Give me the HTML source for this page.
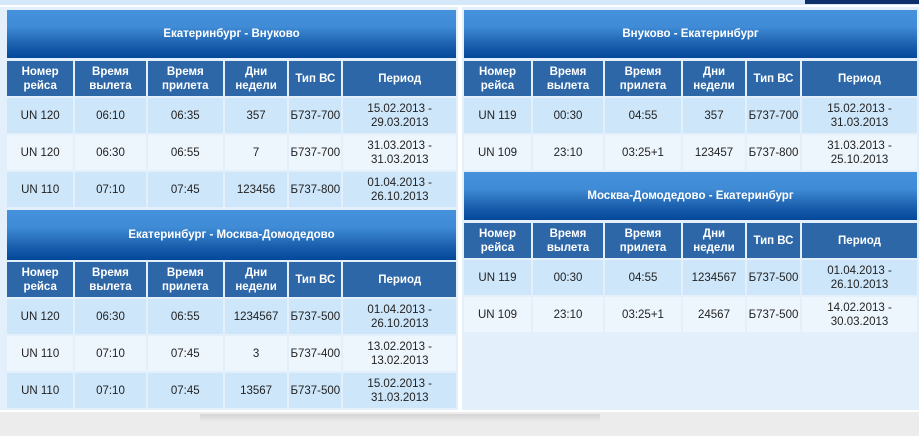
<!DOCTYPE html>
<html><head><meta charset="utf-8"><style>
body{margin:0;width:919px;height:436px;background:#ececec;position:relative;overflow:hidden;font-family:"Liberation Sans",sans-serif}
.abs{position:absolute}
.title{position:absolute;height:48px;background:linear-gradient(#4591db 0%,#3f8bd5 35%,#1d62b0 70%,#03479a 100%);color:#fff;font-weight:bold;font-size:11.5px;display:flex;align-items:center;justify-content:center}
table{position:absolute;border-collapse:separate;border-spacing:2px;table-layout:fixed}
td{padding:0;height:35px;text-align:center;vertical-align:middle;font-size:11.5px;color:#222;line-height:14px}
tr.h td{background:#2d67a8;color:#fff;font-weight:bold}
tr.o td{background:#cde6fa}
tr.e td{background:#eef6fd}
</style></head><body>
<div class="abs" style="left:0;top:0;width:919px;height:412px;background:#fff"></div>
<div class="abs" style="left:0;top:0;width:919px;height:5px;background:#d4e8f9"></div>
<div class="abs" style="left:805px;top:0;width:114px;height:4px;background:#0e2f6a"></div>
<div class="abs" style="left:0;top:7px;width:458px;height:403px;background:#e3effb"></div>
<div class="abs" style="left:462px;top:7px;width:457px;height:403px;background:#e3effb"></div>
<div class="abs" style="left:200px;top:414px;width:400px;height:8px;background:linear-gradient(#d4d4d4,#ececec)"></div>

<div class="title" style="left:7px;top:10px;width:449px">Екатеринбург - Внуково</div>
<table style="left:5px;top:59px;width:453px">
<colgroup><col style="width:66px"><col style="width:70px"><col style="width:75px"><col style="width:62px"><col style="width:52px"><col style="width:112px"></colgroup>
<tr class="h"><td>Номер<br>рейса</td><td>Время<br>вылета</td><td>Время<br>прилета</td><td>Дни<br>недели</td><td>Тип ВС</td><td>Период</td></tr>
<tr class="o"><td>UN 120</td><td>06:10</td><td>06:35</td><td>357</td><td>Б737-700</td><td>15.02.2013 -<br>29.03.2013</td></tr>
<tr class="e"><td>UN 120</td><td>06:30</td><td>06:55</td><td>7</td><td>Б737-700</td><td>31.03.2013 -<br>31.03.2013</td></tr>
<tr class="o"><td>UN 110</td><td>07:10</td><td>07:45</td><td>123456</td><td>Б737-800</td><td>01.04.2013 -<br>26.10.2013</td></tr>
</table>

<div class="title" style="left:7px;top:210px;width:449px;height:50px">Екатеринбург - Москва-Домодедово</div>
<table style="left:5px;top:260px;width:453px">
<colgroup><col style="width:66px"><col style="width:70px"><col style="width:75px"><col style="width:62px"><col style="width:52px"><col style="width:112px"></colgroup>
<tr class="h"><td>Номер<br>рейса</td><td>Время<br>вылета</td><td>Время<br>прилета</td><td>Дни<br>недели</td><td>Тип ВС</td><td>Период</td></tr>
<tr class="o"><td>UN 120</td><td>06:30</td><td>06:55</td><td>1234567</td><td>Б737-500</td><td>01.04.2013 -<br>26.10.2013</td></tr>
<tr class="e"><td>UN 110</td><td>07:10</td><td>07:45</td><td>3</td><td>Б737-400</td><td>13.02.2013 -<br>13.02.2013</td></tr>
<tr class="o"><td>UN 110</td><td>07:10</td><td>07:45</td><td>13567</td><td>Б737-500</td><td>15.02.2013 -<br>31.03.2013</td></tr>
</table>

<div class="title" style="left:464px;top:10px;width:453px">Внуково - Екатеринбург</div>
<table style="left:462px;top:59px;width:457px">
<colgroup><col style="width:67px"><col style="width:70px"><col style="width:76px"><col style="width:62px"><col style="width:53px"><col style="width:115px"></colgroup>
<tr class="h"><td>Номер<br>рейса</td><td>Время<br>вылета</td><td>Время<br>прилета</td><td>Дни<br>недели</td><td>Тип ВС</td><td>Период</td></tr>
<tr class="o"><td>UN 119</td><td>00:30</td><td>04:55</td><td>357</td><td>Б737-700</td><td>15.02.2013 -<br>31.03.2013</td></tr>
<tr class="e"><td>UN 109</td><td>23:10</td><td>03:25+1</td><td>123457</td><td>Б737-800</td><td>31.03.2013 -<br>25.10.2013</td></tr>
</table>

<div class="title" style="left:464px;top:172px;width:453px">Москва-Домодедово - Екатеринбург</div>
<table style="left:462px;top:221px;width:457px">
<colgroup><col style="width:67px"><col style="width:70px"><col style="width:76px"><col style="width:62px"><col style="width:53px"><col style="width:115px"></colgroup>
<tr class="h"><td>Номер<br>рейса</td><td>Время<br>вылета</td><td>Время<br>прилета</td><td>Дни<br>недели</td><td>Тип ВС</td><td>Период</td></tr>
<tr class="o"><td>UN 119</td><td>00:30</td><td>04:55</td><td>1234567</td><td>Б737-500</td><td>01.04.2013 -<br>26.10.2013</td></tr>
<tr class="e"><td>UN 109</td><td>23:10</td><td>03:25+1</td><td>24567</td><td>Б737-500</td><td>14.02.2013 -<br>30.03.2013</td></tr>
</table>
</body></html>
